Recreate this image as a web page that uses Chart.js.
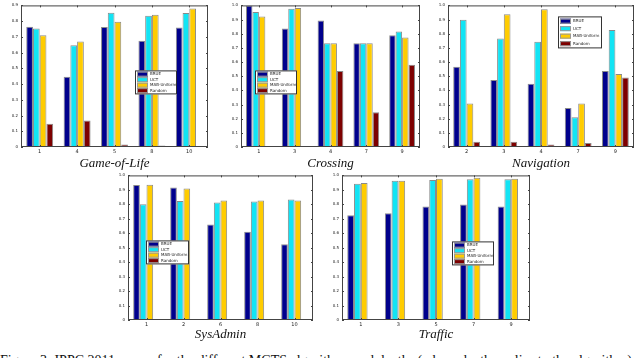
<!DOCTYPE html>
<html>
<head>
<meta charset="utf-8">
<script src="https://cdn.jsdelivr.net/npm/chart.js@4"></script>
<style>
  body { margin: 0; width: 640px; height: 358px; overflow: hidden; background: #fff; position: relative; }
  canvas { position: absolute; }
  #cap { position: absolute; left: 0; top: 354px; font: 14px "Liberation Serif", serif; line-height: 14px; white-space: nowrap; color: #111; }
</style>
</head>
<body>
<canvas id="gol" width="214" height="172" style="left:0;top:0"></canvas>
<canvas id="cross" width="212" height="172" style="left:214px;top:0"></canvas>
<canvas id="nav" width="214" height="172" style="left:426px;top:0"></canvas>
<canvas id="sys" width="220" height="175" style="left:100px;top:170px"></canvas>
<canvas id="traf" width="220" height="175" style="left:320px;top:170px"></canvas>
<div id="cap">Figure 3: IPPC 2011 scores for the different MCTS algorithms and depths (where depth applies to the algorithm)</div>
<script>
const seriesNames = ["BRUE", "UCT", "MAB-Uniform", "Random"];

const golX = ["1", "4", "5", "8", "10"];
const golBRUE = [0.765, 0.447, 0.763, 0.676, 0.759];
const golUCT = [0.753, 0.647, 0.854, 0.835, 0.852];
const golMAB = [0.711, 0.670, 0.796, 0.841, 0.880];
const golRandom = [0.148, 0.169, 0.016, 0.010, 0.002];

const crX = ["1", "3", "4", "7", "9"];
const crBRUE = [1.0, 0.836, 0.894, 0.732, 0.790];
const crUCT = [0.954, 0.977, 0.732, 0.732, 0.815];
const crMAB = [0.921, 0.982, 0.732, 0.732, 0.774];
const crRandom = [0, 0, 0.536, 0.245, 0.580];

const navX = ["2", "3", "4", "7", "9"];
const navBRUE = [0.566, 0.473, 0.446, 0.275, 0.536];
const navUCT = [0.898, 0.767, 0.744, 0.210, 0.827];
const navMAB = [0.307, 0.938, 0.972, 0.307, 0.515];
const navRandom = [0.037, 0.037, 0.018, 0.028, 0.490];

const saX = ["1", "2", "6", "8", "10"];
const saBRUE = [0.933, 0.917, 0.660, 0.610, 0.523];
const saUCT = [0.800, 0.823, 0.812, 0.819, 0.833];
const saMAB = [0.936, 0.910, 0.826, 0.826, 0.826];
const saRandom = [0.005, 0, 0, 0, 0];

const trX = ["1", "3", "5", "7", "9"];
const trBRUE = [0.725, 0.739, 0.785, 0.799, 0.785];
const trUCT = [0.943, 0.963, 0.968, 0.973, 0.973];
const trMAB = [0.947, 0.963, 0.977, 0.984, 0.977];
const trRandom = [0, 0, 0, 0, 0];

const colors = ["#00008c", "#12e4f4", "#ffcc00", "#7d0000"];

// box, inward ticks and a legend placed inside the plot area
const matlabLook = {
  id: "matlabLook",
  afterDraw(chart) {
    const ctx = chart.ctx;
    const a = chart.chartArea;
    const x = chart.scales.x, y = chart.scales.y;
    ctx.save();
    ctx.strokeStyle = "#444";
    ctx.lineWidth = 1;
    ctx.strokeRect(a.left + 0.5, a.top + 0.5, a.right - a.left - 1, a.bottom - a.top - 1);
    ctx.beginPath();
    y.ticks.forEach((t) => {
      const py = Math.round(y.getPixelForValue(t.value)) + 0.5;
      ctx.moveTo(a.left, py); ctx.lineTo(a.left + 2, py);
      ctx.moveTo(a.right, py); ctx.lineTo(a.right - 2, py);
    });
    x.ticks.forEach((t, i) => {
      const px = Math.round(x.getPixelForTick(i)) + 0.5;
      ctx.moveTo(px, a.bottom); ctx.lineTo(px, a.bottom - 2);
      ctx.moveTo(px, a.top); ctx.lineTo(px, a.top + 2);
    });
    ctx.stroke();

    const lg = chart.options.plugins.matlabLook;
    const lx = a.left + lg.x, ly = a.top + lg.y;
    ctx.fillStyle = "#fff";
    ctx.fillRect(lx, ly, lg.w, lg.h);
    ctx.strokeStyle = "#333";
    ctx.strokeRect(lx + 0.5, ly + 0.5, lg.w - 1, lg.h - 1);
    const row = (lg.h - 2) / 4;
    ctx.font = "4px 'DejaVu Sans', sans-serif";
    ctx.textBaseline = "middle";
    chart.data.datasets.forEach((ds, i) => {
      const cy = ly + 1 + row * i + row / 2;
      ctx.fillStyle = ds.backgroundColor;
      ctx.fillRect(lx + 2, cy - 2.5, 11, 5);
      ctx.strokeStyle = "#999";
      ctx.strokeRect(lx + 2.5, cy - 2, 10, 4);
      ctx.fillStyle = "#222";
      ctx.fillText(ds.label, lx + 15, cy);
    });
    ctx.restore();
  }
};

function makeChart(id, title, labels, series, ymax, box, legend) {
  const cv = document.getElementById(id);
  const w = cv.width, h = cv.height;
  new Chart(cv.getContext("2d"), {
    type: "bar",
    data: {
      labels: labels,
      datasets: series.map((d, i) => ({
        label: seriesNames[i],
        data: d,
        backgroundColor: colors[i],
        borderColor: "#8a8a8a",
        borderWidth: 1,
        borderSkipped: "bottom",
        barPercentage: 1.0,
        categoryPercentage: 0.72
      }))
    },
    options: {
      responsive: false,
      animation: false,
      layout: { padding: { left: 0, top: box.top, right: w - box.right, bottom: 0 } },
      plugins: {
        legend: { display: false },
        tooltip: { enabled: false },
        matlabLook: legend
      },
      scales: {
        x: {
          grid: { display: false, drawTicks: false },
          border: { display: false },
          ticks: { color: "#222", font: { size: 5, family: "DejaVu Sans" }, padding: 2, maxRotation: 0 },
          title: {
            display: true,
            text: title,
            color: "#111",
            font: { size: 13, style: "italic", family: "'Liberation Serif', serif" },
            padding: { top: 0, bottom: box.titlePad }
          },
          afterFit: (s) => { s.height = h - box.bottom; }
        },
        y: {
          min: 0,
          max: ymax,
          grid: { display: false, drawTicks: false },
          border: { display: false },
          ticks: { stepSize: 0.1, color: "#222", font: { size: 4, family: "DejaVu Sans" }, padding: 3 },
          afterFit: (s) => { s.width = box.left; }
        }
      }
    },
    plugins: [matlabLook]
  });
}

makeChart("gol", "Game-of-Life", golX, [golBRUE, golUCT, golMAB, golRandom], 0.9,
  { left: 21, top: 2, right: 208, bottom: 147, titlePad: 1 }, { x: 114, y: 65, w: 42, h: 24 });
makeChart("cross", "Crossing", crX, [crBRUE, crUCT, crMAB, crRandom], 1,
  { left: 27, top: 2, right: 206, bottom: 147, titlePad: 1 }, { x: 14, y: 65, w: 42, h: 24 });
makeChart("nav", "Navigation", navX, [navBRUE, navUCT, navMAB, navRandom], 1,
  { left: 22, top: 3, right: 208, bottom: 147, titlePad: 1 }, { x: 110, y: 11, w: 44, h: 32 });
makeChart("sys", "SysAdmin", saX, [saBRUE, saUCT, saMAB, saRandom], 1,
  { left: 28, top: 4, right: 213, bottom: 150, titlePad: 3 }, { x: 18, y: 65, w: 43, h: 24 });
makeChart("traf", "Traffic", trX, [trBRUE, trUCT, trMAB, trRandom], 1,
  { left: 22, top: 4, right: 210, bottom: 150, titlePad: 3 }, { x: 110, y: 66, w: 42, h: 24 });
</script>
</body>
</html>
